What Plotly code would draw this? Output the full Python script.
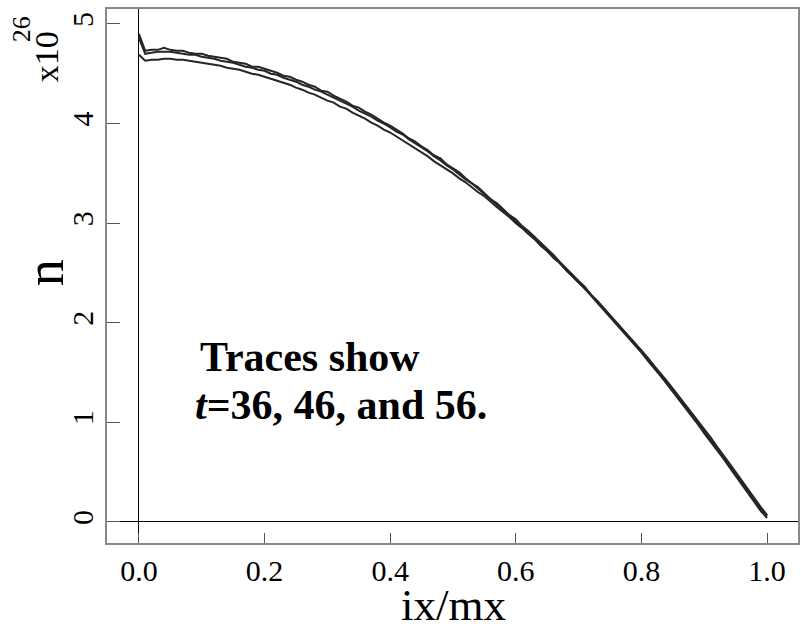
import plotly.graph_objects as go

# Normalised position ix/mx, sampled every 0.01
ix_mx = [i / 100 for i in range(101)]

# Density profiles n (units of 1e26) at three output times
n_t36 = [4.90, 4.73, 4.74, 4.74, 4.76, 4.74, 4.73, 4.73, 4.71, 4.70,
         4.70, 4.68, 4.67, 4.66, 4.65, 4.62, 4.61, 4.60, 4.57, 4.57,
         4.55, 4.53, 4.51, 4.48, 4.47, 4.44, 4.42, 4.39, 4.37, 4.33,
         4.32, 4.28, 4.25, 4.22, 4.18, 4.16, 4.12, 4.09, 4.05, 4.01,
         3.98, 3.94, 3.90, 3.85, 3.82, 3.77, 3.73, 3.68, 3.65, 3.59,
         3.55, 3.51, 3.45, 3.40, 3.36, 3.30, 3.24, 3.20, 3.14, 3.08,
         3.04, 2.97, 2.92, 2.86, 2.80, 2.73, 2.68, 2.61, 2.55, 2.48,
         2.42, 2.36, 2.28, 2.22, 2.15, 2.08, 2.01, 1.93, 1.87, 1.79,
         1.72, 1.64, 1.56, 1.49, 1.40, 1.33, 1.24, 1.16, 1.08, 0.99,
         0.91, 0.83, 0.74, 0.65, 0.57, 0.48, 0.39, 0.30, 0.21, 0.13, 0.06]

n_t46 = [4.86, 4.70, 4.71, 4.72, 4.72, 4.72, 4.71, 4.70, 4.69, 4.69,
         4.67, 4.66, 4.65, 4.63, 4.62, 4.61, 4.59, 4.57, 4.56, 4.54,
         4.53, 4.50, 4.49, 4.46, 4.44, 4.42, 4.39, 4.37, 4.34, 4.32,
         4.29, 4.26, 4.23, 4.20, 4.17, 4.13, 4.10, 4.07, 4.03, 4.00,
         3.96, 3.92, 3.89, 3.84, 3.80, 3.76, 3.72, 3.67, 3.63, 3.58,
         3.54, 3.49, 3.44, 3.40, 3.34, 3.29, 3.24, 3.18, 3.13, 3.07,
         3.02, 2.96, 2.91, 2.84, 2.79, 2.72, 2.66, 2.60, 2.53, 2.47,
         2.40, 2.34, 2.27, 2.20, 2.13, 2.06, 1.99, 1.92, 1.85, 1.77,
         1.70, 1.62, 1.55, 1.47, 1.39, 1.31, 1.23, 1.14, 1.06, 0.98,
         0.89, 0.81, 0.72, 0.64, 0.55, 0.46, 0.37, 0.29, 0.20, 0.11, 0.04]

n_t56 = [4.69, 4.63, 4.64, 4.64, 4.65, 4.65, 4.64, 4.64, 4.63, 4.62,
         4.61, 4.60, 4.59, 4.58, 4.56, 4.55, 4.54, 4.52, 4.50, 4.49,
         4.47, 4.45, 4.43, 4.41, 4.39, 4.36, 4.34, 4.31, 4.29, 4.26,
         4.23, 4.21, 4.17, 4.15, 4.11, 4.08, 4.05, 4.01, 3.98, 3.94,
         3.91, 3.87, 3.83, 3.79, 3.75, 3.71, 3.67, 3.62, 3.58, 3.54,
         3.50, 3.45, 3.41, 3.36, 3.31, 3.27, 3.21, 3.16, 3.11, 3.06,
         3.00, 2.95, 2.89, 2.84, 2.77, 2.72, 2.65, 2.60, 2.53, 2.47,
         2.41, 2.34, 2.28, 2.21, 2.14, 2.08, 2.00, 1.94, 1.86, 1.79,
         1.72, 1.65, 1.57, 1.50, 1.42, 1.34, 1.26, 1.18, 1.10, 1.01,
         0.93, 0.85, 0.76, 0.68, 0.59, 0.50, 0.41, 0.33, 0.24, 0.15, 0.07]

x_ticks = [0.0, 0.2, 0.4, 0.6, 0.8, 1.0]
x_tick_text = ["0.0", "0.2", "0.4", "0.6", "0.8", "1.0"]
y_ticks = [0, 1, 2, 3, 4, 5]
y_tick_text = ["0", "1", "2", "3", "4", "5"]

SERIF = "Liberation Serif, Times New Roman, serif"

fig = go.Figure()
for name, vals in [("t=36", n_t36), ("t=46", n_t46), ("t=56", n_t56)]:
    fig.add_trace(go.Scatter(x=ix_mx, y=vals, mode="lines", name=name,
                             line=dict(color="#262626", width=2),
                             showlegend=False))

L, R, T, B = 107, 1, 9, 81
W, H = 801, 624
pw, ph = W - L - R, H - T - B


def px_x(p):
    return (p - L) / pw


def px_y(p):
    return (H - B - p) / ph


def label(text, x, y, size, angle=0, anchor="center"):
    return dict(text=text, xref="paper", yref="paper", x=px_x(x), y=px_y(y),
                xanchor=anchor, yanchor="middle", showarrow=False,
                textangle=angle, align="left",
                font=dict(size=size, family=SERIF, color="black"))


fig.update_layout(
    width=W, height=H,
    margin=dict(l=L, r=R, t=T, b=B, pad=0),
    paper_bgcolor="white", plot_bgcolor="white",
    font=dict(family=SERIF, color="black"),
    xaxis=dict(range=[-0.0508, 1.0492], tickvals=x_ticks, ticktext=x_tick_text,
               ticks="inside", ticklen=10, tickcolor="#555", tickwidth=1,
               tickfont=dict(size=30, family=SERIF, color="black"),
               showgrid=False, zeroline=True, zerolinecolor="black", zerolinewidth=1,
               showline=True, mirror=True, linecolor="#888", linewidth=1.5),
    yaxis=dict(range=[-0.211, 5.150], tickvals=y_ticks, ticktext=y_tick_text,
               ticks="inside", ticklen=13, tickcolor="#555", tickwidth=1,
               tickangle=-90,
               tickfont=dict(size=30, family=SERIF, color="black"),
               showgrid=False, zeroline=True, zerolinecolor="black", zerolinewidth=1,
               showline=True, mirror=True, linecolor="#888", linewidth=1.5),
    annotations=[
        label("ix/mx", 455, 605, 45),
        label("n", 45, 273, 54, angle=-90),
        label("x10", 46, 57, 34, angle=-90),
        label("26", 22, 29, 26, angle=-90),
        label("<b>Traces show</b>", 198, 357, 42, anchor="left"),
        label("<b><i>t</i>=36, 46, and 56.</b>", 193, 405, 42, anchor="left"),
    ],
)

fig.write_html("out.html")
